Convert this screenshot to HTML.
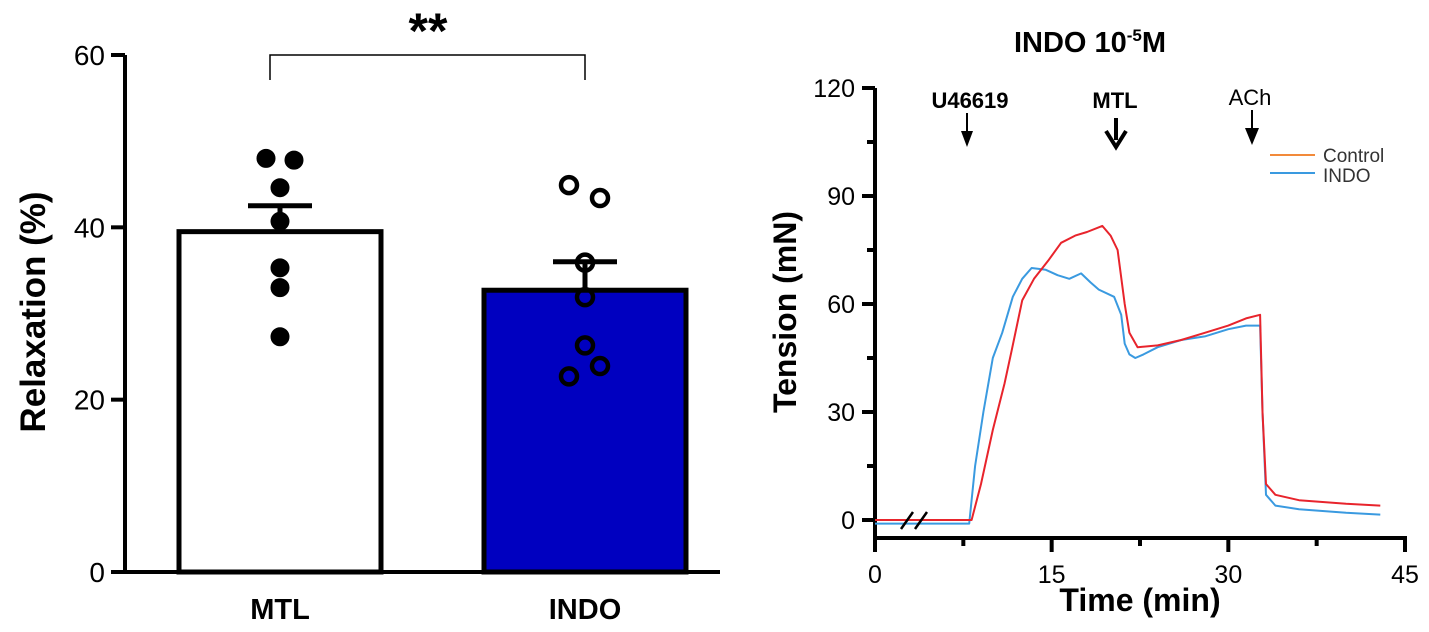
<!DOCTYPE html>
<html><head><meta charset="utf-8"><style>
body{margin:0;background:#fff;}
svg text{font-family:"Liberation Sans",Arial,sans-serif;}
</style></head><body>
<svg id="s" width="1429" height="627" xmlns="http://www.w3.org/2000/svg">
<g id="left"></g>
<g id="right"></g>
</svg>
<script>
const barCats = ["MTL","INDO"];
const barMeans = [39.5, 32.7];
const barSem = [42.5, 36.0];
const mtlPts = [48.0, 47.8, 44.6, 40.7, 35.3, 33.0, 27.3];
const indoPts = [44.9, 43.4, 35.9, 31.9, 26.3, 23.9, 22.7];
const leftTicks = [0,20,40,60];
const ctrlT = [0,8.2,9,10,11,11.6,12.5,13.5,14.7,15.8,17,18,19.3,20,20.6,21.2,21.6,22.3,24,26,28,30,31.5,32.7,32.9,33.2,34,36,40,42.9];
const ctrlV = [0,0,10,25,38,47,61,67,72,77,79,80,81.7,79,75,60,52,48,48.5,50,52,54,56,57,30,10,7,5.5,4.5,4];
const indoT = [0,8,8.5,9.2,10,10.8,11.7,12.5,13.3,14.5,15.5,16.5,17.5,18.3,19,20.3,20.9,21.2,21.6,22.1,22.8,24,26,28,30,31.5,32.7,32.9,33.2,34,36,40,42.9];
const indoV = [-1,-1,15,30,45,52,62,67,70,69.5,68,67,68.5,66,64,62,57,49,46,45,46,48,50,51,53,54,54,30,7,4,3,2,1.5];
const rightYTicks = [0,30,60,90,120];
const rightXTicks = [0,15,30,45];

const NS="http://www.w3.org/2000/svg";
function mk(p,tag,attrs,txt){const e=document.createElementNS(NS,tag);for(const k in attrs)e.setAttribute(k,attrs[k]);if(txt!==undefined)e.textContent=txt;p.appendChild(e);return e;}

// LEFT
const L=document.getElementById('left');
const ly=v=>572-v*(517/60);
const lx=[280,585];
barCats.forEach((c,i)=>{
  const r=mk(L,'rect',{x:lx[i]-101,y:ly(barMeans[i]),width:202,height:572-ly(barMeans[i]),fill:i?'#0000c0':'#fff',stroke:'#000','stroke-width':5});
  
  
  const e=mk(L,'path',{d:`M${lx[i]} ${ly(barMeans[i])}V${ly(barSem[i])}M${lx[i]-32} ${ly(barSem[i])}H${lx[i]+32}`,stroke:'#000','stroke-width':5,fill:'none'});
  
  
  const t=mk(L,'text',{x:lx[i],y:619,'text-anchor':'middle','font-size':29,'font-weight':'bold'},c);
  
  
});
const offs=[-14,14,0,0,0,0,0], offs2=[-16,15,0,0,0,15,-16];
mtlPts.forEach((v,j)=>{const d=mk(L,'circle',{cx:lx[0]+offs[j],cy:ly(v),r:8,fill:'#000',stroke:'#000','stroke-width':3});
  });
indoPts.forEach((v,j)=>{const d=mk(L,'circle',{cx:lx[1]+offs2[j],cy:ly(v),r:8,fill:'none',stroke:'#000','stroke-width':4.5});
  });
const la=mk(L,'path',{d:'M125 55V572H720',stroke:'#000','stroke-width':4,fill:'none'});

leftTicks.forEach(v=>{
  mk(L,'line',{x1:111,x2:125,y1:ly(v),y2:ly(v),stroke:'#000','stroke-width':4});
  const t=mk(L,'text',{x:105,y:ly(v)+10,'text-anchor':'end','font-size':28},v);
  
});
let yt=mk(L,'text',{x:0,y:0,'text-anchor':'middle','font-size':35,'font-weight':'bold',transform:'translate(45,312) rotate(-90)'},'Relaxation (%)');

const br=mk(L,'path',{d:'M270 80V55H585V80',stroke:'#000','stroke-width':1.5,fill:'none'});

const st=mk(L,'text',{x:428,y:48,'text-anchor':'middle','font-size':50,'font-weight':'bold'},'**');


// RIGHT
const R=document.getElementById('right');
const rx=t=>875+t*(530/45);
const ry=v=>520-v*3.6;
const ra=mk(R,'path',{d:'M875 88V538H1407',stroke:'#000','stroke-width':4,fill:'none'});

for(let v=0;v<=120;v+=15){mk(R,'line',{x1:v%30?867:862,x2:875,y1:ry(v),y2:ry(v),stroke:'#000','stroke-width':4});}
rightYTicks.forEach(v=>{const t=mk(R,'text',{x:855,y:ry(v)+9,'text-anchor':'end','font-size':25},v);
  });
for(let t=0;t<=45;t+=7.5){mk(R,'line',{x1:rx(t),x2:rx(t),y1:538,y2:t%15?546:552,stroke:'#000','stroke-width':4});}
rightXTicks.forEach(v=>{const t=mk(R,'text',{x:rx(v),y:583,'text-anchor':'middle','font-size':25},v);
  });
function line(T,V,col,name){const d=T.map((t,i)=>(i?'L':'M')+rx(t).toFixed(1)+' '+ry(V[i]).toFixed(1)).join('');
  const p=mk(R,'path',{d:d,stroke:col,'stroke-width':2,fill:'none','stroke-linejoin':'round'});
  }
line(indoT,indoV,'#3a9ae0','line-indo');
line(ctrlT,ctrlV,'#e8242c','line-control');
mk(R,'path',{d:'M901 529L913 512M915 529L927 512',stroke:'#000','stroke-width':2.5});
let t;
t=mk(R,'text',{x:1090,y:52,'text-anchor':'middle','font-size':29,'font-weight':'bold'});
t.innerHTML='INDO 10<tspan dy="-11" font-size="17">-5</tspan><tspan dy="11">M</tspan>';

t=mk(R,'text',{x:0,y:0,'text-anchor':'middle','font-size':32,'font-weight':'bold',transform:'translate(796,312) rotate(-90)'},'Tension (mN)');

t=mk(R,'text',{x:1140,y:611,'text-anchor':'middle','font-size':32,'font-weight':'bold'},'Time (min)');

t=mk(R,'text',{x:970,y:108,'text-anchor':'middle','font-size':22,'font-weight':'bold'},'U46619');

mk(R,'path',{d:'M967 113V135',stroke:'#000','stroke-width':2});mk(R,'path',{d:'M961 131H973L967 147Z',fill:'#000'});
t=mk(R,'text',{x:1115,y:108,'text-anchor':'middle','font-size':22,'font-weight':'bold'},'MTL');

mk(R,'path',{d:'M1116 118V140M1106 131L1116 147L1126 131',stroke:'#000','stroke-width':4,fill:'none'});
t=mk(R,'text',{x:1250,y:105,'text-anchor':'middle','font-size':22},'ACh');

mk(R,'path',{d:'M1252 110V135',stroke:'#000','stroke-width':2});mk(R,'path',{d:'M1245 128H1259L1252 145Z',fill:'#000'});
mk(R,'line',{x1:1270,x2:1315,y1:155,y2:155,stroke:'#f28a3a','stroke-width':2});
mk(R,'line',{x1:1270,x2:1315,y1:173,y2:173,stroke:'#3a9ae0','stroke-width':2});
t=mk(R,'text',{x:1323,y:162,'font-size':19,fill:'#333'},'Control');

t=mk(R,'text',{x:1323,y:182,'font-size':19,fill:'#333'},'INDO');

</script>
</body></html>
